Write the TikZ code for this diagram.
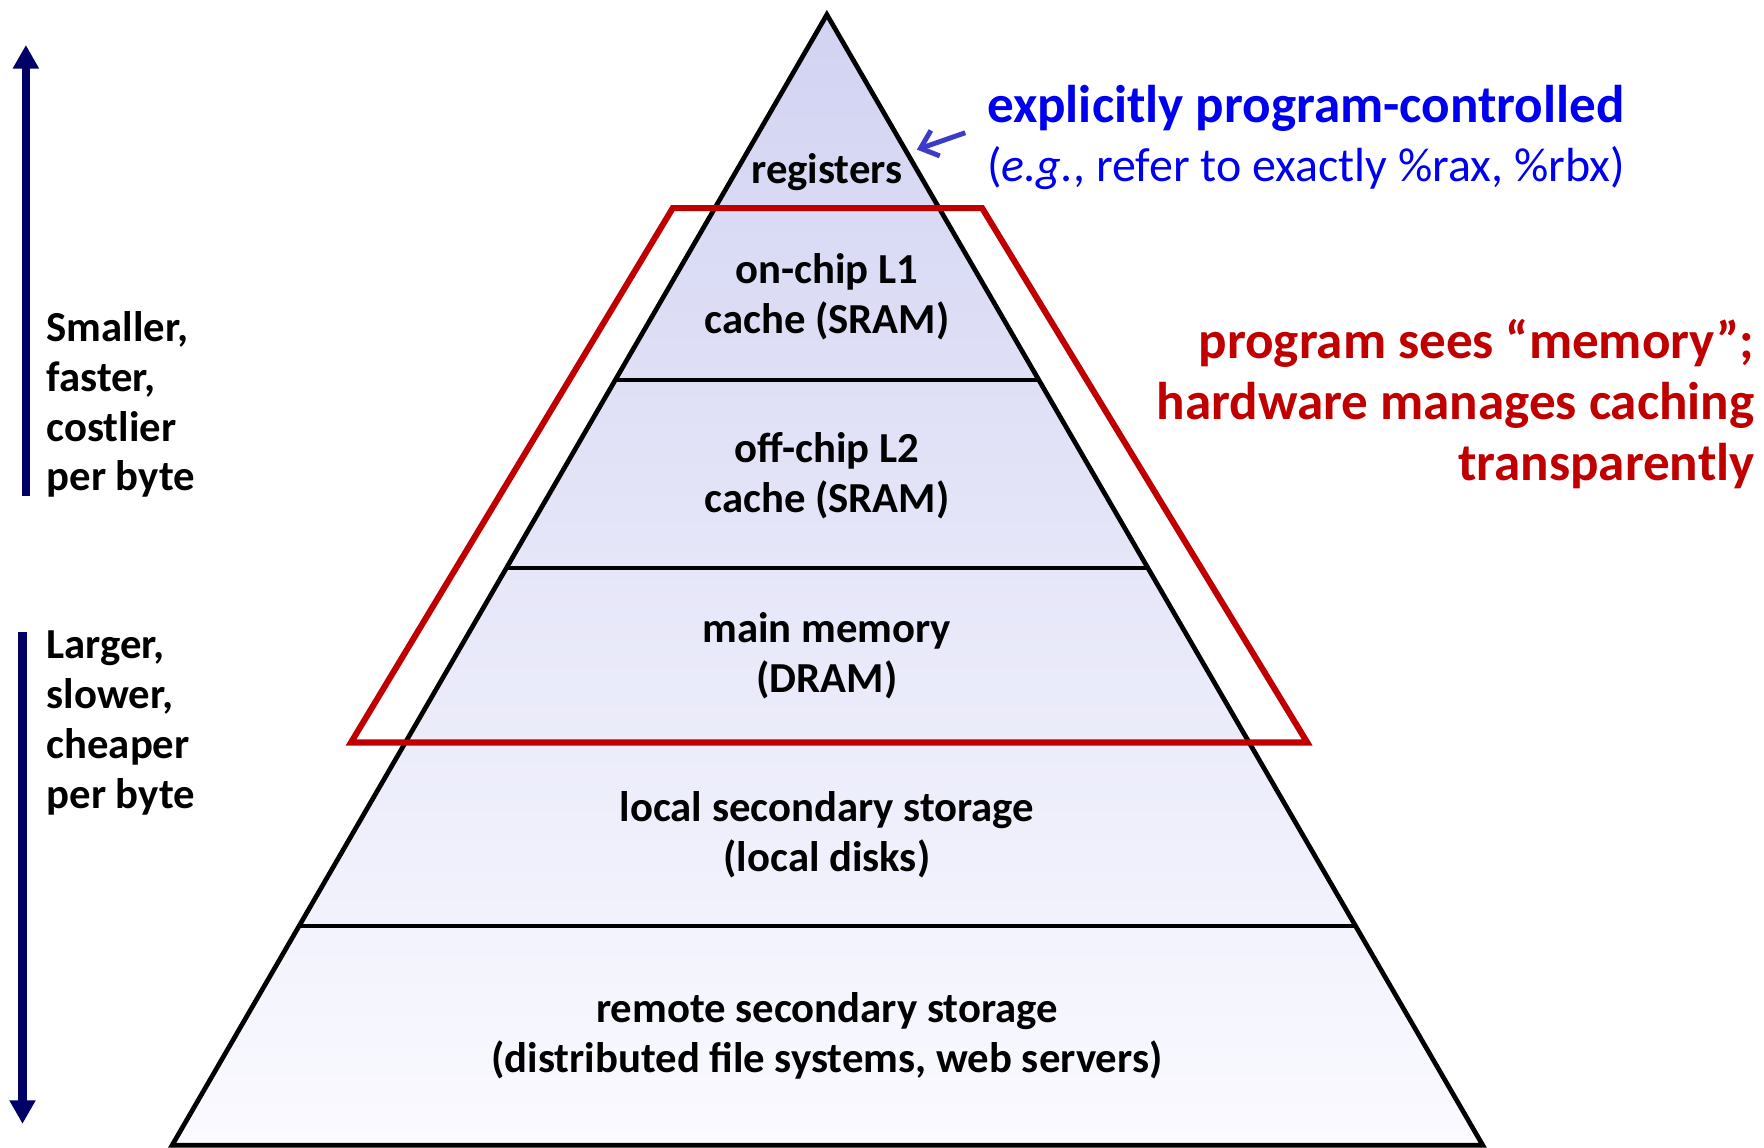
\documentclass[tikz,border=0pt]{standalone}
\usepackage{fontspec}
\setmainfont{Carlito}
\usetikzlibrary{arrows.meta,calc}
\definecolor{navy}{RGB}{0,0,102}
\definecolor{cmured}{RGB}{192,0,0}
\definecolor{expblue}{RGB}{0,0,240}
\definecolor{arrblue}{RGB}{60,60,200}
\definecolor{pyrtop}{RGB}{210,211,242}
\definecolor{pyrbot}{RGB}{250,250,255}
\begin{document}
\begin{tikzpicture}[x=0.5pt,y=-0.5pt,
  lvl/.style={font=\fontsize{19}{22.2}\selectfont\bfseries, align=center, inner sep=0pt},
  side/.style={font=\fontsize{19}{22.2}\selectfont\bfseries, align=left, inner sep=0pt, anchor=west},
  divider/.style={line width=1.6pt, black},
  outline/.style={line width=2.1pt, black, line join=miter},
  cachebox/.style={line width=2.7pt, cmured, line join=miter},
  bigarrow/.style={line width=3.6pt, navy, -{Triangle[width=11pt,length=10.5pt]}},
  note/.style={inner sep=0pt, anchor=west, text=expblue}]
\useasboundingbox (0,0) rectangle (1568,1020);
% pyramid
\coordinate (apex) at (735,13);
\coordinate (bl) at (153,1018);
\coordinate (br) at (1318,1018);
\shade[top color=pyrtop, bottom color=pyrbot] (apex) -- (br) -- (bl) -- cycle;
% dividers (fractions along the sides)
\foreach \y/\n in {185/a, 338/b, 505/c, 660/d, 823/e}{
  \pgfmathsetmacro{\t}{(\y-13)/1005}
  \coordinate (L\n) at ($(apex)!\t!(bl)$);
  \coordinate (R\n) at ($(apex)!\t!(br)$);
  \draw[divider] (L\n) -- (R\n);
}
\draw[outline] (apex) -- (br) -- (bl) -- cycle;
% level labels
\node[lvl] (reg) at (735,153) {registers};
\node[lvl] (l1) at (735,264) {on-chip L1\\cache (SRAM)};
\node[lvl] (l2) at (735,423) {off-chip L2\\cache (SRAM)};
\node[lvl] (mm) at (735,583) {main memory\\(DRAM)};
\node[lvl] (lss) at (735,742) {local secondary storage\\(local disks)};
\node[lvl] (rss) at (735,921) {remote secondary storage\\(distributed file systems, web servers)};
% red cache box
\coordinate (c1) at (598,185);
\coordinate (c2) at (873,185);
\coordinate (c3) at (1162,660);
\coordinate (c4) at (312,660);
\draw[cachebox] (c1) -- (c2) -- (c3) -- (c4) -- cycle;
% left arrows and texts
\coordinate (upS) at (23,441);
\coordinate (upE) at (23,40);
\draw[bigarrow] (upS) -- (upE);
\coordinate (dnS) at (20,562);
\coordinate (dnE) at (20,999);
\draw[bigarrow] (dnS) -- (dnE);
\node[side] (small) at (41,359.5) {Smaller,\\faster,\\costlier\\per byte};
\node[side] (large) at (41,642.5) {Larger,\\slower,\\cheaper\\per byte};
% blue note
\node[note, font=\fontsize{23.6}{27}\selectfont\bfseries] (expl) at (877,96)
  {explicitly program-controlled};
\node[note, font=\fontsize{21.3}{26}\selectfont] (eg) at (877,149)
  {(\textit{e.g.}, refer to exactly \%rax, \%rbx)};
\coordinate (arS) at (858,118);
\coordinate (arE) at (815,133);
\draw[arrblue, line width=2.2pt, -{Straight Barb[width=12pt,length=7pt]}] (arS) -- (arE);
% red note
\node[inner sep=0pt, anchor=east, align=right, text=cmured, font=\fontsize{23.6}{27.2}\selectfont\bfseries] (prog) at (1560,359)
  {program sees “memory”;\\hardware manages caching\\transparently};
\end{tikzpicture}
\end{document}
